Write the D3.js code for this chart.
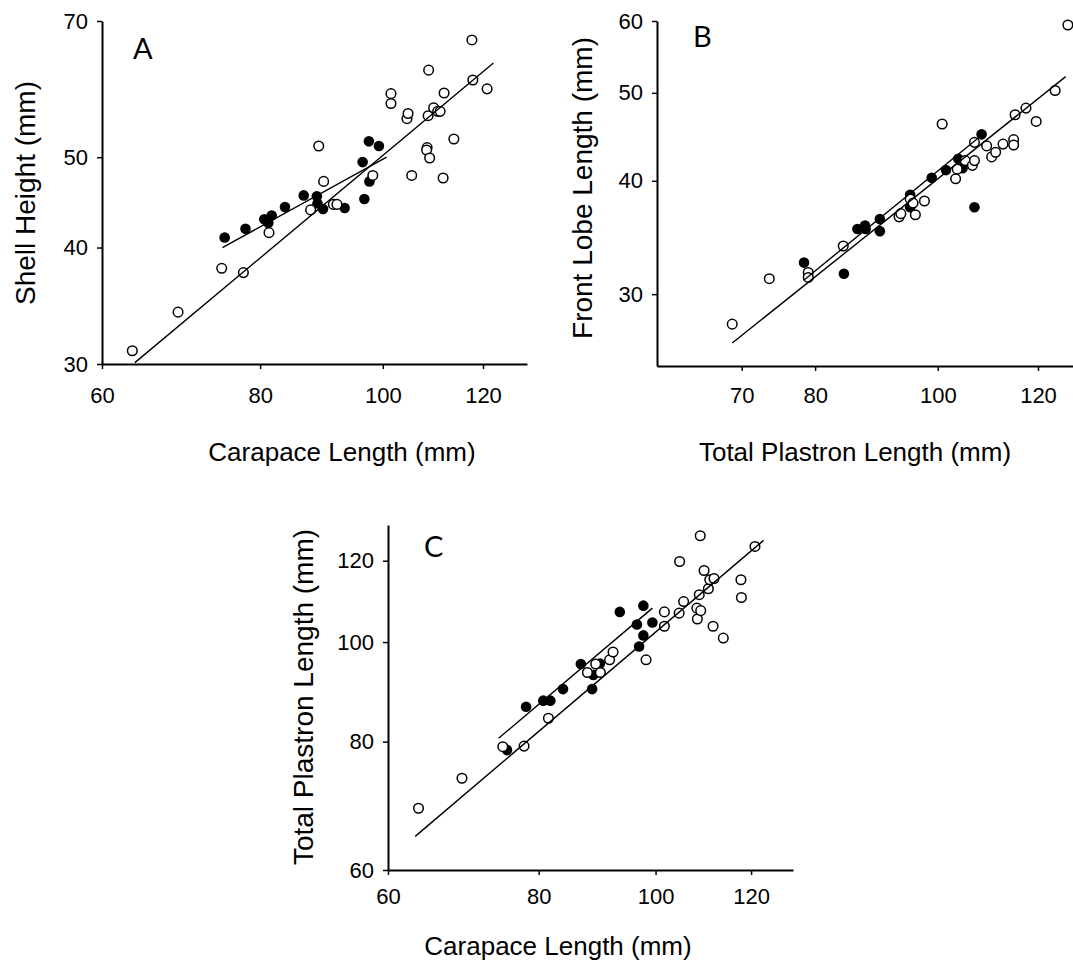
<!DOCTYPE html>
<html>
<head>
<meta charset="utf-8">
<script src="https://cdn.jsdelivr.net/npm/d3@7"></script>
<style>
  html, body { margin: 0; padding: 0; background: #fff; }
  svg { display: block; }
  .axis path, .axis line { stroke: #000; }
  .axis text { font-family: Arial, "Liberation Sans", sans-serif; font-size: 22px; fill: #000; }
</style>
</head>
<body>
<div id="chart"></div>
<script>
// ---- data (mm, log-log axes) ----
const xTicksAC = [60, 80, 100, 120];
const xTicksB = [70, 80, 100, 120];
const yTicksA = [30, 40, 50, 70];
const yTicksB = [30, 40, 50, 60];
const yTicksC = [60, 80, 100, 120];

// A: carapace length vs shell height
const aOpen = [[63.4,31.0],[68.9,34.1],[74.6,38.0],[77.6,37.6],[81.3,41.5],[87.7,43.9],[89.0,51.4],[89.8,47.1],
  [91.4,44.5],[92.0,44.5],[98.2,47.8],[101.5,58.5],[101.5,57.1],[104.5,55.0],[104.7,55.7],[105.4,47.8],
  [108.4,51.2],[108.3,50.9],[108.9,49.9],[108.7,62.0],[108.6,55.4],[109.7,56.5],[110.5,56.0],[111.0,56.0],
  [111.8,58.6],[111.6,47.5],[113.8,52.3],[117.6,66.8],[117.8,60.5],[120.9,59.2]];
const aFilled = [[75.0,41.0],[77.9,41.9],[80.6,42.9],[81.7,43.3],[81.2,42.5],[83.7,44.2],[86.6,45.5],[88.7,45.4],
  [88.8,44.6],[89.7,44.0],[93.3,44.1],[96.7,45.1],[96.4,49.4],[97.5,52.0],[99.3,51.4],[97.6,47.1]];
const aFitOpen = [[63.7,30.1],[122.3,63.1]];
const aFitFilled = [[74.7,40.0],[100.7,50.0]];

// B: total plastron length vs front lobe length
const bOpen = [[68.8,27.8],[73.6,31.2],[79.0,31.7],[79.0,31.3],[84.2,33.9],[93.2,36.5],[93.5,36.8],[95.1,38.2],
  [95.6,37.8],[96.0,36.7],[97.6,38.0],[100.8,46.2],[103.3,40.2],[103.6,41.2],[105.1,42.1],[106.5,41.6],
  [106.9,42.1],[106.9,44.1],[109.3,43.7],[110.3,42.5],[111.1,43.0],[112.6,43.9],[114.8,44.4],[114.8,43.8],
  [115.1,47.3],[117.4,48.1],[119.6,46.5],[123.8,50.3],[126.7,59.4]];
const bFilled = [[78.4,32.5],[84.3,31.6],[86.4,35.4],[87.6,35.7],[87.7,35.4],[90.0,36.3],[90.0,35.2],[95.1,38.6],
  [95.1,37.4],[98.9,40.3],[101.5,41.1],[103.8,42.3],[104.6,41.3],[106.9,37.4],[108.3,45.0]];
const bFitOpen = [[68.8,26.5],[126.2,52.1]];
const bFitFilled = [[78.4,31.1],[108.3,44.9]];

// C: carapace length vs total plastron length
const cOpen = [[63.6,68.9],[69.1,73.7],[74.7,79.1],[77.8,79.2],[81.5,84.3],[87.8,93.4],[89.2,95.2],[90.0,93.4],
  [91.6,96.1],[92.2,97.8],[98.2,96.1],[101.7,107.0],[101.7,103.6],[104.6,106.7],[104.7,119.8],[105.5,109.5],
  [108.3,105.3],[108.2,107.9],[109.0,107.3],[108.7,111.2],[108.9,126.9],[109.7,117.4],[110.6,112.7],[110.9,115.0],
  [111.8,115.3],[111.6,103.6],[113.8,100.9],[117.7,115.0],[117.8,110.5],[120.9,123.9]];
const cFilled = [[75.3,78.5],[78.1,86.5],[80.7,87.7],[81.8,87.7],[83.8,90.0],[86.7,95.2],[88.6,90.0],[88.8,92.9],
  [89.9,95.3],[93.4,107.0],[96.5,104.0],[96.9,99.0],[97.7,101.5],[97.7,108.5],[99.4,104.5]];
const cFitOpen = [[63.2,64.7],[122.9,125.6]];
const cFitFilled = [[74.1,80.6],[99.4,107.9]];

const width = 1073, height = 969;
const titleFont = 'Arial, "Liberation Sans", sans-serif';
const letterFont = 'Lato, "Open Sans", sans-serif';

const svg = d3.select('#chart').append('svg')
    .attr('width', width)
    .attr('height', height);

const panels = [
  {
    letter: 'A', letterPos: [133, 59],
    x: d3.scaleLog().domain([60, 130]).range([102, 527]),
    y: d3.scaleLog().domain([30, 70]).range([364, 21]),
    xTicks: xTicksAC, yTicks: yTicksA, xPad: 18,
    open: aOpen, filled: aFilled, fits: [aFitOpen, aFitFilled],
    xTitle: 'Carapace Length (mm)', xTitlePos: [342, 461],
    yTitle: 'Shell Height (mm)', yTitlePos: [35, 193]
  },
  {
    letter: 'B', letterPos: [693, 47],
    x: d3.scaleLog().domain([60, 130]).range([657, 1082]),
    y: d3.scaleLog().domain([25, 60]).range([366, 21]),
    xTicks: xTicksB, yTicks: yTicksB, xPad: 16,
    open: bOpen, filled: bFilled, fits: [bFitOpen, bFitFilled],
    xTitle: 'Total Plastron Length (mm)', xTitlePos: [855, 461],
    yTitle: 'Front Lobe Length (mm)', yTitlePos: [592, 188]
  },
  {
    letter: 'C', letterPos: [424, 557],
    x: d3.scaleLog().domain([60, 130]).range([388, 793]),
    y: d3.scaleLog().domain([60, 130]).range([870, 525]),
    xTicks: xTicksAC, yTicks: yTicksC, xPad: 13,
    open: cOpen, filled: cFilled, fits: [cFitOpen, cFitFilled],
    xTitle: 'Carapace Length (mm)', xTitlePos: [558, 955],
    yTitle: 'Total Plastron Length (mm)', yTitlePos: [313, 697]
  }
];

panels.forEach(p => {
  const g = svg.append('g');
  const x0 = p.x.range()[0];
  const y0 = p.y.range()[0];

  // axes
  const xAxis = d3.axisBottom(p.x)
      .tickValues(p.xTicks)
      .tickFormat(d3.format('d'))
      .tickSize(5)
      .tickSizeOuter(0)
      .tickPadding(p.xPad);

  const yAxis = d3.axisLeft(p.y)
      .tickValues(p.yTicks)
      .tickFormat(d3.format('d'))
      .tickSize(5)
      .tickSizeOuter(0)
      .tickPadding(9);

  const gx = g.append('g')
      .attr('class', 'axis')
      .attr('transform', `translate(0,${y0})`)
      .call(xAxis);

  const gy = g.append('g')
      .attr('class', 'axis')
      .attr('transform', `translate(${x0},0)`)
      .call(yAxis);

  gx.select('.domain').attr('stroke-width', 2);
  gy.select('.domain').attr('stroke-width', 2);
  gx.selectAll('.tick line').attr('stroke-width', 1.5);
  gy.selectAll('.tick line').attr('stroke-width', 1.5);

  // filled points
  g.append('g').selectAll('circle')
    .data(p.filled)
    .join('circle')
      .attr('cx', d => p.x(d[0]))
      .attr('cy', d => p.y(d[1]))
      .attr('r', 5.3)
      .attr('fill', '#000');

  // open points
  g.append('g').selectAll('circle')
    .data(p.open)
    .join('circle')
      .attr('cx', d => p.x(d[0]))
      .attr('cy', d => p.y(d[1]))
      .attr('r', 4.8)
      .attr('fill', '#fff')
      .attr('stroke', '#000')
      .attr('stroke-width', 1.5);

  // regression lines
  const line = d3.line()
      .x(d => p.x(d[0]))
      .y(d => p.y(d[1]));

  p.fits.forEach(f => {
    g.append('path')
      .datum(f)
      .attr('d', line)
      .attr('fill', 'none')
      .attr('stroke', '#000')
      .attr('stroke-width', 1.4);
  });

  // panel letter
  g.append('text')
    .attr('x', p.letterPos[0])
    .attr('y', p.letterPos[1])
    .attr('font-family', letterFont)
    .attr('font-size', 29)
    .text(p.letter);

  // axis titles
  g.append('text')
    .attr('x', p.xTitlePos[0])
    .attr('y', p.xTitlePos[1])
    .attr('text-anchor', 'middle')
    .attr('font-family', titleFont)
    .attr('font-size', 26)
    .text(p.xTitle);

  g.append('text')
    .attr('transform', `translate(${p.yTitlePos[0]},${p.yTitlePos[1]}) rotate(-90)`)
    .attr('text-anchor', 'middle')
    .attr('font-family', titleFont)
    .attr('font-size', 28)
    .text(p.yTitle);
});
</script>
</body>
</html>
